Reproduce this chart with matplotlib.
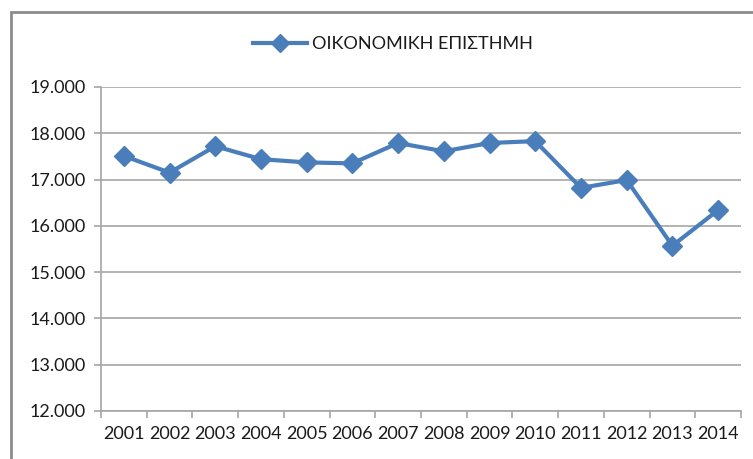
import matplotlib
matplotlib.use("Agg")
import matplotlib.pyplot as plt
from matplotlib.patches import Rectangle
from matplotlib.ticker import FuncFormatter

years = ["2001", "2002", "2003", "2004", "2005", "2006", "2007",
         "2008", "2009", "2010", "2011", "2012", "2013", "2014"]
values = [17510, 17150, 17720, 17440, 17370, 17350, 17790,
          17610, 17790, 17830, 16820, 16990, 15570, 16340]
series_name = "ΟΙΚΟΝΟΜΙΚΗ ΕΠΙΣΤΗΜΗ"

plt.rcParams['font.family'] = ['Lato', 'Noto Sans', 'DejaVu Sans']

line_color = '#4a7ebb'
grid_color = '#a6a6a6'
text_color = '#1a1a1a'

fig = plt.figure(figsize=(7.53, 4.59), dpi=100)
ax = fig.add_axes([0.1341, 0.1046, 0.8499, 0.7059])

# outer chart border (cropped at the right and bottom)
fig.patches.append(Rectangle((11 / 753, -0.1), 1.1, 1 - 12 / 459 + 0.1,
                             transform=fig.transFigure, fill=False,
                             edgecolor='#8c8c8c', linewidth=2))

x = list(range(len(years)))
ax.plot(x, values, color=line_color, lw=3, marker='D', markersize=10.5,
        label=series_name, zorder=3)

ax.set_xlim(-0.5, len(years) - 0.5)
ax.set_ylim(12000, 19000)
ax.set_yticks(range(12000, 19001, 1000))
ax.yaxis.set_major_formatter(FuncFormatter(lambda v, p: f"{int(v):,}".replace(",", ".")))
ax.grid(axis='y', color=grid_color, lw=1.2)
ax.set_axisbelow(True)

ax.set_xticks(x)
ax.set_xticklabels(years)
ax.set_xticks([i + 0.5 for i in range(-1, len(years))], minor=True)
ax.tick_params(axis='x', which='major', length=0, pad=11, labelsize=13, colors=text_color)
ax.tick_params(axis='x', which='minor', length=5, width=1.2, color=grid_color, direction='out')
ax.tick_params(axis='y', length=5, width=1.2, color=grid_color, pad=6, labelsize=13,
               labelcolor=text_color)

for s in ['top', 'right']:
    ax.spines[s].set_visible(False)
for s in ['left', 'bottom']:
    ax.spines[s].set_color(grid_color)
    ax.spines[s].set_linewidth(1.2)

leg = fig.legend(loc='center', bbox_to_anchor=(0.522, 0.904), frameon=False,
                 fontsize=13, handlelength=3.0, handletextpad=0.25,
                 labelcolor=text_color, markerscale=0.85)

fig.savefig("out.png", dpi=100)
